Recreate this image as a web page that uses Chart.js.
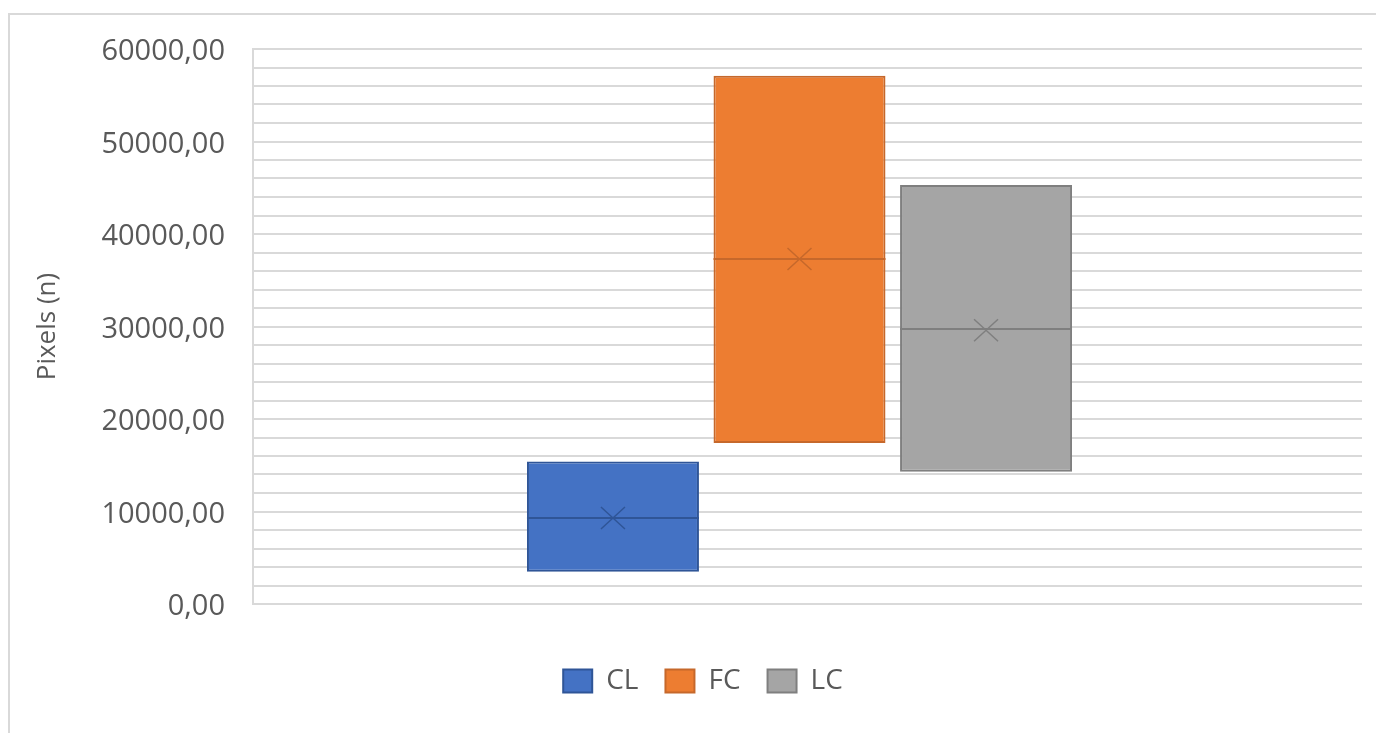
<!DOCTYPE html>
<html>
<head>
<meta charset="utf-8">
<script src="https://cdn.jsdelivr.net/npm/chart.js@4.4.1/dist/chart.umd.min.js"></script>
<style>
  html, body { margin: 0; padding: 0; background: #fff; overflow: hidden; }
  #wrap { position: relative; width: 1376px; height: 733px; }
  #frame {
    position: absolute; left: 8px; top: 13px; width: 1400px; height: 760px;
    border-top: 2px solid #d9d9d9; border-left: 2px solid #d9d9d9;
  }
  canvas { position: absolute; left: 0; top: 0; }
</style>
</head>
<body>
<div id="wrap">
  <div id="frame"></div>
  <canvas id="boxChart" width="1376" height="733"></canvas>
</div>
<script>
// box data
const groups  = ['CL', 'FC', 'LC'];
const q1      = [3500, 17400, 14300];
const q3      = [15400, 57100, 45300];
const medians = [9300, 37300, 29700];
const means   = [9300, 37300, 29600];

const fills   = ['#4472c4', '#ed7d31', '#a5a5a5'];
const edges   = ['#2f5597', '#c6682b', '#7f7f7f'];

const yMin = 0;
const yMax = 60000;
const majorStep = 10000;
const minorStep = 2000;

const textGrey = '#595959';
const gridGrey = '#d9d9d9';

// the grey gridlines run 16px past the box group's band on the right
const gridTail = 16;

// median line + mean cross on top of each box
const boxMarks = {
  id: 'boxMarks',
  beforeDatasetsDraw(chart) {
    // continue the horizontal gridlines a little beyond the chart area
    const { ctx, chartArea } = chart;
    const y = chart.scales.y;
    ctx.save();
    ctx.strokeStyle = gridGrey;
    ctx.lineWidth = 2;
    y.ticks.forEach(t => {
      const py = Math.round(y.getPixelForValue(t.value));
      ctx.beginPath();
      ctx.moveTo(chartArea.right, py);
      ctx.lineTo(chartArea.right + gridTail, py);
      ctx.stroke();
    });
    ctx.restore();
  },
  afterDatasetsDraw(chart) {
    const { ctx } = chart;
    const y = chart.scales.y;
    chart.data.datasets.forEach((ds, i) => {
      const bar = chart.getDatasetMeta(i).data[0];
      if (!bar) return;
      const half = bar.width / 2;
      const ym = Math.round(y.getPixelForValue(medians[i]));
      ctx.save();
      ctx.strokeStyle = edges[i];
      ctx.lineWidth = 2;
      ctx.beginPath();
      ctx.moveTo(bar.x - half, ym);
      ctx.lineTo(bar.x + half, ym);
      ctx.stroke();

      const ya = y.getPixelForValue(means[i]);
      const rx = 12, ry = 11;
      ctx.lineWidth = 1.5;
      ctx.beginPath();
      ctx.moveTo(bar.x - rx, ya - ry);
      ctx.lineTo(bar.x + rx, ya + ry);
      ctx.moveTo(bar.x + rx, ya - ry);
      ctx.lineTo(bar.x - rx, ya + ry);
      ctx.stroke();
      ctx.restore();
    });
  }
};

const ctx = document.getElementById('boxChart').getContext('2d');
new Chart(ctx, {
  type: 'bar',
  data: {
    labels: [''],
    datasets: groups.map((g, i) => ({
      label: g,
      data: [[q1[i], q3[i]]],
      backgroundColor: fills[i],
      borderColor: edges[i],
      borderWidth: 2,
      borderSkipped: false,
      barPercentage: 0.922,
      categoryPercentage: 0.512
    }))
  },
  options: {
    responsive: false,
    animation: false,
    devicePixelRatio: 1,
    layout: { padding: { left: 60, top: 49, right: 14 + gridTail, bottom: 28 } },
    plugins: {
      tooltip: { enabled: false },
      legend: {
        position: 'bottom',
        labels: {
          boxWidth: 29,
          boxHeight: 23,
          padding: 27,
          color: textGrey,
          font: { family: 'Open Sans', size: 28 }
        }
      }
    },
    scales: {
      x: {
        ticks: { display: false },
        grid: { display: false },
        border: { display: false },
        afterFit: s => { s.height = 36; }
      },
      y: {
        min: yMin,
        max: yMax,
        afterFit: s => { s.width = 193; },
        afterBuildTicks: s => {
          const t = [];
          for (let v = yMin; v <= yMax; v += minorStep) t.push({ value: v });
          s.ticks = t;
        },
        ticks: {
          autoSkip: false,
          padding: 28,
          labelOffset: 3,
          color: textGrey,
          font: { family: 'Open Sans', size: 29 },
          callback: v => (v % majorStep === 0 ? v.toFixed(2).replace('.', ',') : '')
        },
        grid: { color: gridGrey, lineWidth: 2, drawTicks: false },
        border: { display: true, color: gridGrey, width: 2 },
        title: {
          display: true,
          text: 'Pixels (n)',
          color: textGrey,
          padding: { top: -28, bottom: 0 },
          font: { family: 'Open Sans', size: 26 }
        }
      }
    }
  },
  plugins: [boxMarks]
});
</script>
</body>
</html>
